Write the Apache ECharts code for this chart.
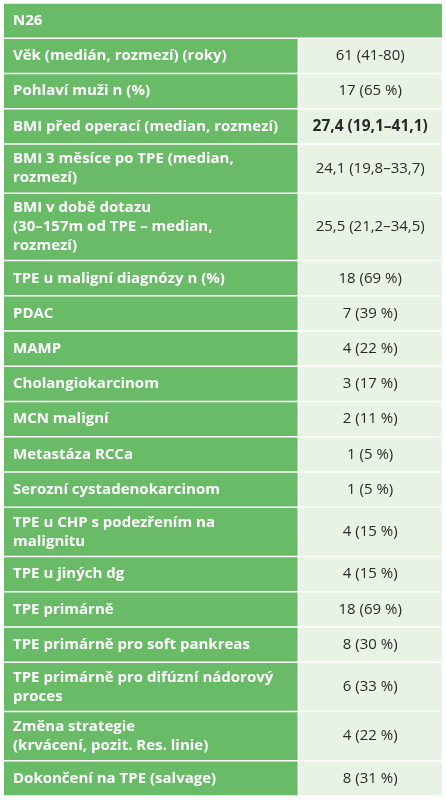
<!DOCTYPE html>
<html><head><meta charset="utf-8">
<script src="https://cdn.jsdelivr.net/npm/echarts@6/dist/echarts.min.js"></script>
<style>html,body{margin:0;padding:0;background:#fff}#c{width:446px;height:800px}</style>
</head><body><div id="c"></div>
<script>
const header = 'N26';
const labels = [
 'Věk (medián, rozmezí) (roky)',
 'Pohlaví muži n (%)',
 'BMI před operací (median, rozmezí)',
 'BMI 3 měsíce po TPE (median,\nrozmezí)',
 'BMI v době dotazu\n(30–157m od TPE – median,\nrozmezí)',
 'TPE u maligní diagnózy n (%)',
 'PDAC',
 'MAMP',
 'Cholangiokarcinom',
 'MCN maligní',
 'Metastáza RCCa',
 'Serozní cystadenokarcinom',
 'TPE u CHP s podezřením na\nmalignitu',
 'TPE u jiných dg',
 'TPE primárně',
 'TPE primárně pro soft pankreas',
 'TPE primárně pro difúzní nádorový\nproces',
 'Změna strategie\n(krvácení, pozit. Res. linie)',
 'Dokončení na TPE (salvage)'
];
const values = ['61 (41-80)','17 (65 %)','27,4 (19,1–41,1)','24,1 (19,8–33,7)','25,5 (21,2–34,5)',
 '18 (69 %)','7 (39 %)','4 (22 %)','3 (17 %)','2 (11 %)','1 (5 %)','1 (5 %)','4 (15 %)','4 (15 %)',
 '18 (69 %)','8 (30 %)','6 (33 %)','4 (22 %)','8 (31 %)'];
const boldValue = [false,false,true,false,false,false,false,false,false,false,false,false,false,false,false,false,false,false,false];

const unitFor = n => n === 1 ? 35 : (n === 2 ? 49 : 67);
const rows = [];
let acc = 0;
rows.push([acc, acc + 35, header, '', 0, 1]); acc += 35;
labels.forEach((l, i) => {
  const h = unitFor(l.split('\n').length);
  rows.push([acc, acc + h, l, values[i], boldValue[i] ? 1 : 0, 0]);
  acc += h;
});
const total = acc;
const split = 0.672;
const green = '#69bb68', light = '#e9f3e5';

const chart = echarts.init(document.getElementById('c'));
chart.setOption({
  animation: false,
  grid: {left: 4, right: 4, top: 3, bottom: 4},
  xAxis: {type: 'value', min: 0, max: 1, show: false},
  yAxis: {type: 'value', min: 0, max: total, inverse: true, show: false},
  series: [{
    type: 'custom',
    data: rows,
    renderItem: function (params, api) {
      const y0 = api.value(0), y1 = api.value(1);
      const isHead = api.value(5) === 1;
      const p0 = api.coord([0, y0]), p1 = api.coord([1, y1]);
      const ps = api.coord([split, y0]);
      const gap = 1.5;
      const top = p0[1] + gap/2, h = p1[1] - p0[1] - gap;
      const children = [];
      if (isHead) {
        children.push({type: 'rect', shape: {x: p0[0], y: top, width: p1[0]-p0[0], height: h}, style: {fill: green}});
      } else {
        children.push({type: 'rect', shape: {x: p0[0], y: top, width: ps[0]-p0[0]-gap/2, height: h}, style: {fill: green}});
        children.push({type: 'rect', shape: {x: ps[0]+gap/2, y: top, width: p1[0]-ps[0]-gap/2, height: h}, style: {fill: light}});
        children.push({type: 'text', style: {text: rows[params.dataIndex][3], x: (ps[0]+p1[0])/2, y: top + h/2,
          align: 'center', verticalAlign: 'middle', fill: '#2a2a2a',
          font: (api.value(4) ? 'bold 15.5px ' : '15px ') + '"Open Sans", sans-serif'}});
      }
      children.push({type: 'text', style: {text: rows[params.dataIndex][2], x: p0[0] + 9, y: top + h/2,
        align: 'left', verticalAlign: 'middle', fill: '#ffffff', lineHeight: 19,
        font: 'bold 15px "Open Sans", sans-serif'}});
      return {type: 'group', children: children};
    }
  }]
});
</script></body></html>
